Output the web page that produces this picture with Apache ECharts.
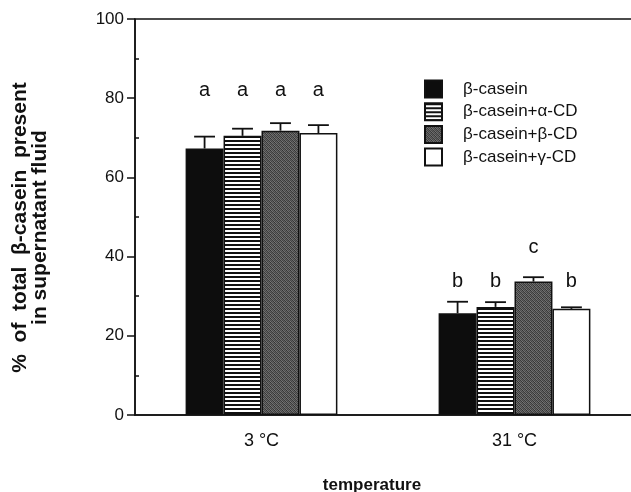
<!DOCTYPE html>
<html>
<head>
<meta charset="utf-8">
<script src="https://cdn.jsdelivr.net/npm/echarts@6/dist/echarts.min.js"></script>
<style>html,body{margin:0;padding:0;background:#fff}#c{width:631px;height:492px}</style>
</head>
<body>
<div id="c"></div>
<script>
// ---- data ----
const categories = ['3 °C', '31 °C'];
const seriesNames = ['β-casein', 'β-casein+α-CD', 'β-casein+β-CD', 'β-casein+γ-CD'];
const caseinMean = [67.3, 25.7];
const alphaMean  = [70.5, 27.3];
const betaMean   = [71.8, 33.7];
const gammaMean  = [71.2, 26.8];
const caseinErr = [3.0, 2.9];
const alphaErr  = [1.8, 1.2];
const betaErr   = [1.9, 1.1];
const gammaErr  = [2.0, 0.4];
const caseinLetter = ['a', 'b'];
const alphaLetter  = ['a', 'b'];
const betaLetter   = ['a', 'c'];
const gammaLetter  = ['a', 'b'];
const caseinLetterY = [82, 33.6];
const alphaLetterY  = [82, 33.6];
const betaLetterY   = [82, 42.2];
const gammaLetterY  = [82, 33.6];
const yTicks = [0, 20, 40, 60, 80, 100];

const means = [caseinMean, alphaMean, betaMean, gammaMean];
const errs = [caseinErr, alphaErr, betaErr, gammaErr];
const letters = [caseinLetter, alphaLetter, betaLetter, gammaLetter];
const letterYs = [caseinLetterY, alphaLetterY, betaLetterY, gammaLetterY];

// ---- patterns ----
function stripeCanvas() {
  const c = document.createElement('canvas'); c.width = 4; c.height = 4;
  const g = c.getContext('2d');
  g.fillStyle = '#fff'; g.fillRect(0, 0, 4, 4);
  g.fillStyle = '#111'; g.fillRect(0, 0, 4, 2);
  return c;
}
function stippleCanvas() {
  const m = [[60,110,70,95],[100,55,120,65],[75,105,50,115],[115,70,100,60]];
  const c = document.createElement('canvas'); c.width = 4; c.height = 4;
  const g = c.getContext('2d');
  for (let y = 0; y < 4; y++) for (let x = 0; x < 4; x++) {
    const v = m[y][x]; g.fillStyle = 'rgb(' + v + ',' + v + ',' + v + ')'; g.fillRect(x, y, 1, 1);
  }
  return c;
}
const fills = ['#0d0d0d', {image: stripeCanvas(), repeat: 'repeat'}, {image: stippleCanvas(), repeat: 'repeat'}, '#ffffff'];

const FONT = 'Liberation Sans, Arial, Helvetica, sans-serif';

const barSeries = seriesNames.map((n, i) => ({
  name: n, type: 'bar', data: means[i],
  barGap: '0%', barCategoryGap: '40%',
  itemStyle: {color: fills[i], borderColor: '#111', borderWidth: 1.5},
  z: 2
}));

const errData = [];
const errLetters = [];
for (let s = 0; s < 4; s++) {
  for (let c = 0; c < categories.length; c++) {
    errData.push([c, s, means[s][c], errs[s][c], letterYs[s][c]]);
    errLetters.push(letters[s][c]);
  }
}

const errSeries = {
  type: 'custom', name: 'err', z: 5,
  data: errData,
  renderItem: function (params, api) {
    const cat = api.value(0), s = api.value(1), mean = api.value(2), err = api.value(3), ly = api.value(4);
    const band = api.size([1, 0])[0];
    const bw = band * 0.6 / 4;
    const cx = api.coord([cat, 0])[0] + (s - 1.5) * bw;
    const yTop = api.coord([cat, mean])[1];
    const yErr = api.coord([cat, mean + err])[1];
    const yL = api.coord([cat, ly])[1];
    const cap = bw * 0.55;
    return {
      type: 'group', children: [
        {type: 'line', shape: {x1: cx, y1: yTop, x2: cx, y2: yErr}, style: {stroke: '#111', lineWidth: 1.8}},
        {type: 'line', shape: {x1: cx - cap / 2, y1: yErr, x2: cx + cap / 2, y2: yErr}, style: {stroke: '#111', lineWidth: 1.8}},
        {type: 'text', x: cx, y: yL, style: {text: errLetters[params.dataIndex], fill: '#111', font: '20px ' + FONT, align: 'center', verticalAlign: 'middle'}}
      ]
    };
  }
};

const chart = echarts.init(document.getElementById('c'), null, {renderer: 'canvas'});
chart.setOption({
  animation: false,
  backgroundColor: '#fff',
  textStyle: {fontFamily: FONT, color: '#111'},
  grid: {left: 135, top: 19, right: -10, bottom: 77, outerBoundsMode: 'none', show: true, borderColor: '#111', borderWidth: 1.5, containLabel: false},
  legend: {
    data: seriesNames.map(n => ({name: n, icon: 'rect'})), orient: 'vertical', left: 419, top: 74.5,
    itemWidth: 17, itemHeight: 17, itemGap: 3.7,
    textStyle: {fontSize: 17, lineHeight: 17, color: '#111', fontFamily: FONT, padding: [0, 0, 0, 16]},
    selectedMode: false
  },
  xAxis: {
    type: 'category', data: categories, boundaryGap: true,
    name: 'temperature', nameLocation: 'middle', nameGap: 62,
    nameTextStyle: {fontSize: 17, fontWeight: 'bold', color: '#111', padding: [0, 32, 0, 0]},
    axisLine: {lineStyle: {color: '#111', width: 1.5}},
    axisTick: {length: 5, lineStyle: {color: '#111', width: 1.5}},
    axisLabel: {fontSize: 18, color: '#111', margin: 17}
  },
  yAxis: {
    type: 'value', min: yTicks[0], max: yTicks[yTicks.length - 1], interval: 20,
    name: '%  of  total  β-casein  present\nin supernatant fluid',
    nameLocation: 'middle', nameRotate: 90, nameGap: 85,
    nameTextStyle: {fontSize: 21, fontWeight: 'bold', color: '#111', lineHeight: 20, padding: [0, 21, 0, 0]},
    axisLine: {show: true, lineStyle: {color: '#111', width: 1.5}},
    axisTick: {show: true, length: 8, lineStyle: {color: '#111', width: 1.5}},
    minorTick: {show: true, splitNumber: 2, length: -4, lineStyle: {color: '#111', width: 1.5}},
    splitLine: {show: false},
    axisLabel: {fontSize: 17, color: '#111', margin: 11}
  },
  series: barSeries.concat([errSeries])
});
</script>
</body>
</html>
